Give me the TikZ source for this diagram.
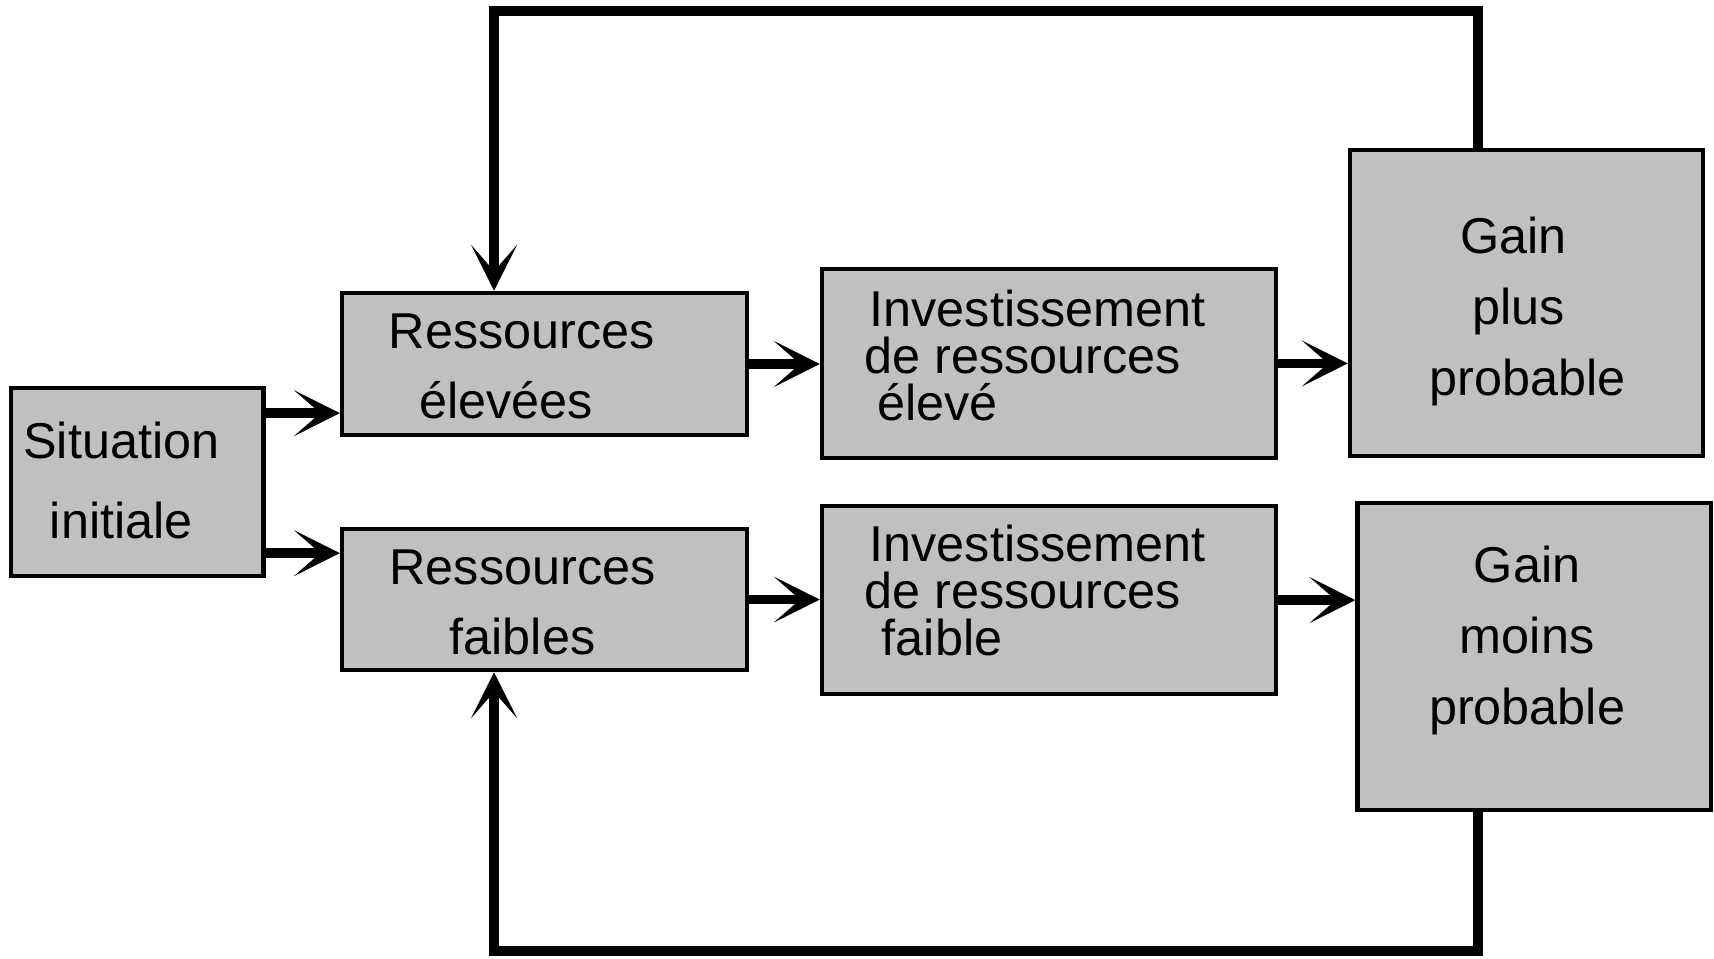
\documentclass[tikz,border=0pt]{standalone}
\usepackage{fontspec}
\setmainfont{Liberation Sans}
\usetikzlibrary{arrows.meta}
\definecolor{boxgray}{RGB}{192,192,192}
\tikzset{box/.style={draw, fill=boxgray, line width=1.1pt, inner sep=0pt},
  boxtext/.style={inner sep=0pt, font=\fontsize{13.1}{#1}\selectfont},
  flow/.style={line width=2.5pt, line join=miter,
    -{Stealth[length=0.42cm, width=0.42cm, inset=0.24cm]}}}

\begin{document}
\begin{tikzpicture}[x=0.01cm, y=-0.01cm]
    \useasboundingbox (0,0) rectangle (1568,877);

    % boxes
    \node[box, minimum width=2.31cm, minimum height=1.72cm]
      (Situation) at (125.5,441) {};
    \node[box, minimum width=3.70cm, minimum height=1.30cm]
      (ResElev) at (498,333) {};
    \node[box, minimum width=3.70cm, minimum height=1.29cm]
      (ResFaib) at (498,548.5) {};
    \node[box, minimum width=4.15cm, minimum height=1.73cm]
      (InvElev) at (959.5,332.5) {};
    \node[box, minimum width=4.15cm, minimum height=1.72cm]
      (InvFaib) at (959.5,549) {};
    \node[box, minimum width=3.23cm, minimum height=2.80cm]
      (GainPlus) at (1396.5,277) {};
    \node[box, minimum width=3.23cm, minimum height=2.81cm]
      (GainMoins) at (1403.5,600.5) {};

    % texts
    \node[boxtext=20.8, align=center]
      (SituationText) at (111,440) {Situation\\initiale};
    \node[boxtext=18.2, align=left, anchor=west]
      (ResElevText) at (355,335) {Ressources\\\hspace*{0.28cm}élevées};
    \node[boxtext=18.2, align=center]
      (ResFaibText) at (478,551) {Ressources\\faibles};
    \node[boxtext=12.2, align=left, anchor=west]
      (InvElevText) at (790,325)
      {\hspace*{0.05cm}Investissement\\de ressources\\\hspace*{0.12cm}élevé};
    \node[boxtext=12.2, align=left, anchor=west]
      (InvFaibText) at (790,540.5)
      {\hspace*{0.05cm}Investissement\\de ressources\\\hspace*{0.16cm}faible};
    \node[boxtext=18.5, align=left, anchor=west]
      (GainPlusText) at (1307,285)
      {\hspace*{0.28cm}Gain\\\hspace*{0.39cm}plus\\probable};
    \node[boxtext=18.5, align=center]
      (GainMoinsText) at (1397,586) {Gain\\moins\\probable};

    % loop corners
    \coordinate (TopLeft) at (452,10);
    \coordinate (TopRight) at (1352,10);
    \coordinate (BotLeft) at (452,870);
    \coordinate (BotRight) at (1352,870);

    \draw[flow]
      ([yshift=0.63cm]Situation.east) -- ([yshift=0.63cm]Situation.east -| ResElev.west);
    \draw[flow]
      ([yshift=-0.65cm]Situation.east) -- ([yshift=-0.65cm]Situation.east -| ResFaib.west);
    \draw[flow] (ResElev.east) -- (ResElev.east -| InvElev.west);
    \draw[flow] (InvElev.east) -- (InvElev.east -| GainPlus.west);
    \draw[flow] (ResFaib.east) -- (ResFaib.east -| InvFaib.west);
    \draw[flow] (InvFaib.east) -- (InvFaib.east -| GainMoins.west);

    \draw[flow]
      (GainPlus.north -| TopRight) -- (TopRight) -- (TopLeft) -- (TopLeft |- ResElev.north);
    \draw[flow]
      (GainMoins.south -| BotRight) -- (BotRight) -- (BotLeft) -- (BotLeft |- ResFaib.south);

  \end{tikzpicture}
\end{document}
